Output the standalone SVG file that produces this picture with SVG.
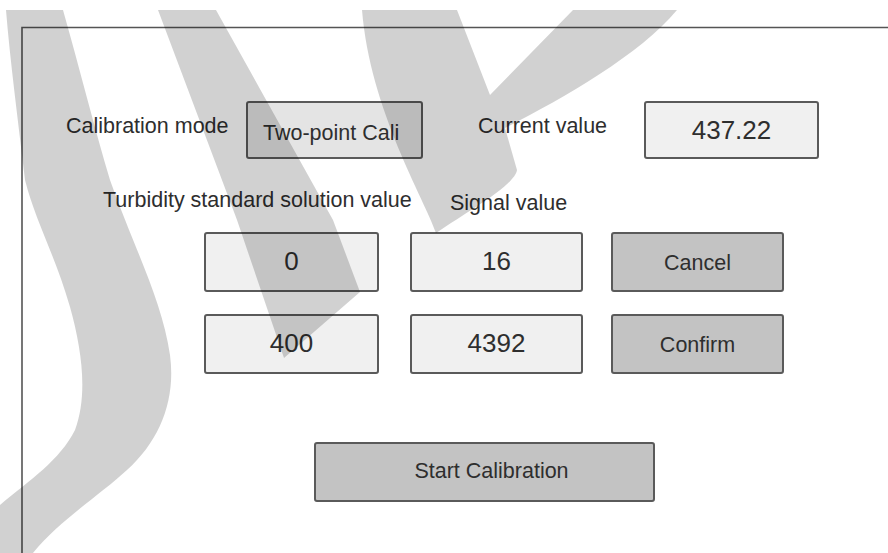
<svg xmlns="http://www.w3.org/2000/svg" width="888" height="553" viewBox="0 0 888 553">
<style>
.t{font-family:"Liberation Sans",Arial,sans-serif;font-size:21.5px;fill:#2e2e2e}
.v{font-size:26px}
.m{text-anchor:middle}
.box{stroke:#5a5a5a;stroke-width:2}
.lt{fill:#f0f0f0}
.md{fill:#e4e4e4}
.dk{fill:#c3c3c3}
.wm{fill:#000;fill-opacity:0.18}
.frame{fill:none;stroke:#555;stroke-width:1.6}
</style>
<rect x="0" y="0" width="888" height="553" fill="#fff"/>
<g id="frame"><path class="frame" d="M888,27.5 H22 V553"/></g>
<g id="calibration-mode">
<text class="t" x="66" y="133">Calibration mode</text>
<rect class="box md" x="247" y="102" width="175" height="56" rx="2"/>
<text class="t" x="263" y="140">Two-point Cali</text>
</g>
<g id="current-value">
<text class="t" x="478" y="133">Current value</text>
<rect class="box lt" x="645" y="102" width="173" height="56" rx="2"/>
<text class="t v m" x="731.5" y="139">437.22</text>
</g>
<g id="turbidity-label"><text class="t" x="103" y="207">Turbidity standard solution value</text></g>
<g id="signal-label"><text class="t" x="450" y="210">Signal value</text></g>
<g id="std-0"><rect class="box lt" x="205" y="233" width="173" height="58" rx="2"/><text class="t v m" x="291.5" y="270">0</text></g>
<g id="sig-16"><rect class="box lt" x="411" y="233" width="171" height="58" rx="2"/><text class="t v m" x="496.5" y="270">16</text></g>
<g id="cancel"><rect class="box dk" x="612" y="233" width="171" height="58" rx="2"/><text class="t m" x="697.5" y="270">Cancel</text></g>
<g id="std-400"><rect class="box lt" x="205" y="315" width="173" height="58" rx="2"/><text class="t v m" x="291.5" y="352">400</text></g>
<g id="sig-4392"><rect class="box lt" x="411" y="315" width="171" height="58" rx="2"/><text class="t v m" x="496.5" y="352">4392</text></g>
<g id="confirm"><rect class="box dk" x="612" y="315" width="171" height="58" rx="2"/><text class="t m" x="697.5" y="352">Confirm</text></g>
<g id="start-calibration"><rect class="box dk" x="315" y="443" width="339" height="58" rx="2"/><text class="t m" x="491.5" y="478">Start Calibration</text></g>
<g id="watermark">
<path class="wm" d="M6,10 L63,10 C80,70 95,130 110,180 C135,250 162,300 170,355 C176,400 160,440 127,470 C100,495 60,520 33,553 L0,553 L0,505 C30,480 60,460 75,430 C88,395 82,350 70,307 C55,255 35,220 25,180 C18,120 10,60 6,10 Z"/>
<path class="wm" d="M158,10 L216,10 L333,220 L360,292 L284,358 L237,220 Z"/>
<path class="wm" d="M362,10 L457,10 L490,95 L573,10 L677,10 C640,55 560,100 505,128 L517,170 C515,185 470,210 436,233 C425,200 370,110 362,10 Z"/>
</g>
</svg>
